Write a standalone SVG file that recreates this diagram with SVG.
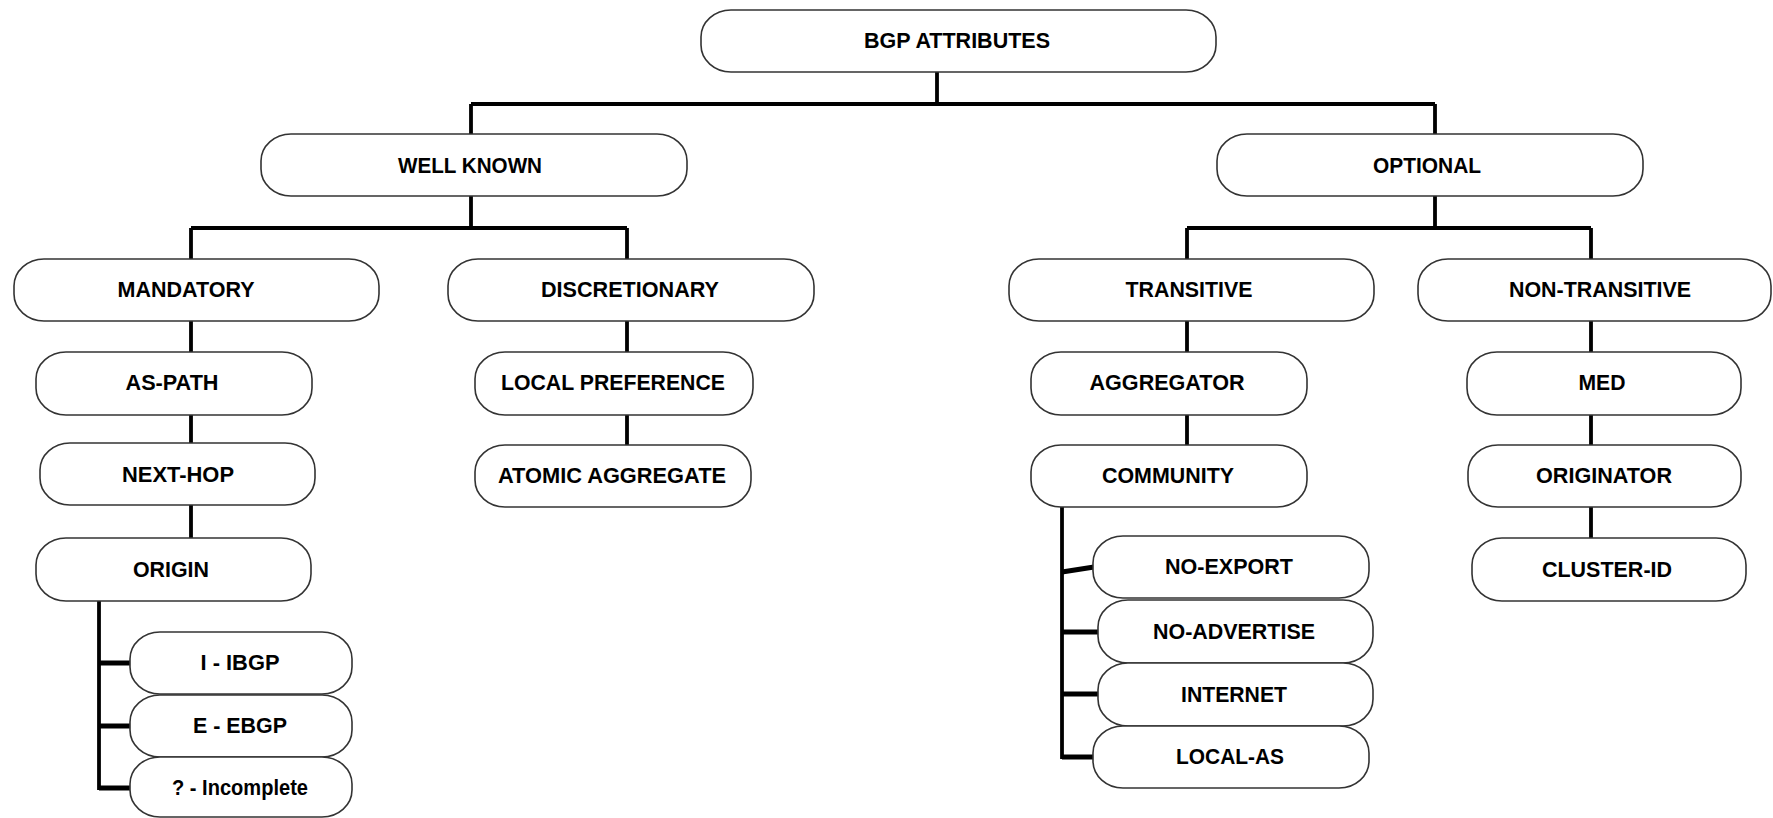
<svg xmlns="http://www.w3.org/2000/svg" width="1773" height="818" viewBox="0 0 1773 818">
<style>
.b{fill:#fff;stroke:#333;stroke-width:1.6}
.t{font-family:"Liberation Sans",Arial,sans-serif;font-weight:bold;font-size:22px;fill:#000;text-anchor:middle}
.c{fill:none;stroke:#000;stroke-width:3.8}
.k{fill:none;stroke:#000;stroke-width:5}
</style>
<rect width="1773" height="818" fill="#fff"/>
<g id="connectors">
<path class="c" d="M937,72V104M471,104H1435M471,104V134M1435,104V134"/>
<path class="c" d="M471,196V228M191,228H627M191,228V259M627,228V259"/>
<path class="c" d="M1435,196V228M1187,228H1591M1187,228V259M1591,228V259"/>
<path class="c" d="M191,321V352M191,415V443M191,505V538"/>
<path class="c" d="M627,321V352M627,415V445"/>
<path class="c" d="M1187,321V352M1187,415V445"/>
<path class="c" d="M1591,321V352M1591,415V445M1591,507V538"/>
<path class="c" d="M99,601V790"/>
<path class="k" d="M99,663H131M99,726H131M99,788H131"/>
<path class="c" d="M1062,507V759"/>
<path class="k" d="M1062,572L1094,567M1062,632H1099M1062,694H1099M1062,757H1094"/>
</g>
<g id="bgp"><rect class="b" x="701" y="10" width="515" height="62" rx="30" ry="27"/><text class="t" x="957" y="48" textLength="186" lengthAdjust="spacingAndGlyphs">BGP ATTRIBUTES</text></g>
<g id="wellknown"><rect class="b" x="261" y="134" width="426" height="62" rx="30" ry="27"/><text class="t" x="470" y="173" textLength="144" lengthAdjust="spacingAndGlyphs">WELL KNOWN</text></g>
<g id="optional"><rect class="b" x="1217" y="134" width="426" height="62" rx="30" ry="27"/><text class="t" x="1427" y="173" textLength="108" lengthAdjust="spacingAndGlyphs">OPTIONAL</text></g>
<g id="mandatory"><rect class="b" x="14" y="259" width="365" height="62" rx="30" ry="27"/><text class="t" x="186" y="297" textLength="137" lengthAdjust="spacingAndGlyphs">MANDATORY</text></g>
<g id="discretionary"><rect class="b" x="448" y="259" width="366" height="62" rx="30" ry="27"/><text class="t" x="630" y="297" textLength="178" lengthAdjust="spacingAndGlyphs">DISCRETIONARY</text></g>
<g id="transitive"><rect class="b" x="1009" y="259" width="365" height="62" rx="30" ry="27"/><text class="t" x="1189" y="297" textLength="127" lengthAdjust="spacingAndGlyphs">TRANSITIVE</text></g>
<g id="nontransitive"><rect class="b" x="1418" y="259" width="353" height="62" rx="30" ry="27"/><text class="t" x="1600" y="297" textLength="182" lengthAdjust="spacingAndGlyphs">NON-TRANSITIVE</text></g>
<g id="aspath"><rect class="b" x="36" y="352" width="276" height="63" rx="30" ry="27"/><text class="t" x="172" y="390" textLength="93" lengthAdjust="spacingAndGlyphs">AS-PATH</text></g>
<g id="localpref"><rect class="b" x="475" y="352" width="278" height="63" rx="30" ry="27"/><text class="t" x="613" y="390" textLength="224" lengthAdjust="spacingAndGlyphs">LOCAL PREFERENCE</text></g>
<g id="aggregator"><rect class="b" x="1031" y="352" width="276" height="63" rx="30" ry="27"/><text class="t" x="1167" y="390" textLength="155" lengthAdjust="spacingAndGlyphs">AGGREGATOR</text></g>
<g id="med"><rect class="b" x="1467" y="352" width="274" height="63" rx="30" ry="27"/><text class="t" x="1602" y="390" textLength="47" lengthAdjust="spacingAndGlyphs">MED</text></g>
<g id="nexthop"><rect class="b" x="40" y="443" width="275" height="62" rx="30" ry="27"/><text class="t" x="178" y="482" textLength="112" lengthAdjust="spacingAndGlyphs">NEXT-HOP</text></g>
<g id="atomic"><rect class="b" x="475" y="445" width="276" height="62" rx="30" ry="27"/><text class="t" x="612" y="483" textLength="228" lengthAdjust="spacingAndGlyphs">ATOMIC AGGREGATE</text></g>
<g id="community"><rect class="b" x="1031" y="445" width="276" height="62" rx="30" ry="27"/><text class="t" x="1168" y="483" textLength="132" lengthAdjust="spacingAndGlyphs">COMMUNITY</text></g>
<g id="originator"><rect class="b" x="1468" y="445" width="273" height="62" rx="30" ry="27"/><text class="t" x="1604" y="483" textLength="136" lengthAdjust="spacingAndGlyphs">ORIGINATOR</text></g>
<g id="origin"><rect class="b" x="36" y="538" width="275" height="63" rx="30" ry="27"/><text class="t" x="171" y="577" textLength="76" lengthAdjust="spacingAndGlyphs">ORIGIN</text></g>
<g id="clusterid"><rect class="b" x="1472" y="538" width="274" height="63" rx="30" ry="27"/><text class="t" x="1607" y="577" textLength="130" lengthAdjust="spacingAndGlyphs">CLUSTER-ID</text></g>
<g id="ibgp"><rect class="b" x="130" y="632" width="222" height="62" rx="30" ry="27"/><text class="t" x="240" y="670" textLength="79" lengthAdjust="spacingAndGlyphs">I - IBGP</text></g>
<g id="ebgp"><rect class="b" x="130" y="695" width="222" height="62" rx="30" ry="27"/><text class="t" x="240" y="733" textLength="94" lengthAdjust="spacingAndGlyphs">E - EBGP</text></g>
<g id="incomplete"><rect class="b" x="130" y="757" width="222" height="60" rx="30" ry="27"/><text class="t" x="240" y="795" textLength="136" lengthAdjust="spacingAndGlyphs">? - Incomplete</text></g>
<g id="noexport"><rect class="b" x="1093" y="536" width="276" height="62" rx="30" ry="27"/><text class="t" x="1229" y="574" textLength="128" lengthAdjust="spacingAndGlyphs">NO-EXPORT</text></g>
<g id="noadvertise"><rect class="b" x="1098" y="600" width="275" height="63" rx="30" ry="27"/><text class="t" x="1234" y="639" textLength="162" lengthAdjust="spacingAndGlyphs">NO-ADVERTISE</text></g>
<g id="internet"><rect class="b" x="1098" y="663" width="275" height="63" rx="30" ry="27"/><text class="t" x="1234" y="702" textLength="106" lengthAdjust="spacingAndGlyphs">INTERNET</text></g>
<g id="localas"><rect class="b" x="1093" y="726" width="276" height="62" rx="30" ry="27"/><text class="t" x="1230" y="764" textLength="108" lengthAdjust="spacingAndGlyphs">LOCAL-AS</text></g>
</svg>
